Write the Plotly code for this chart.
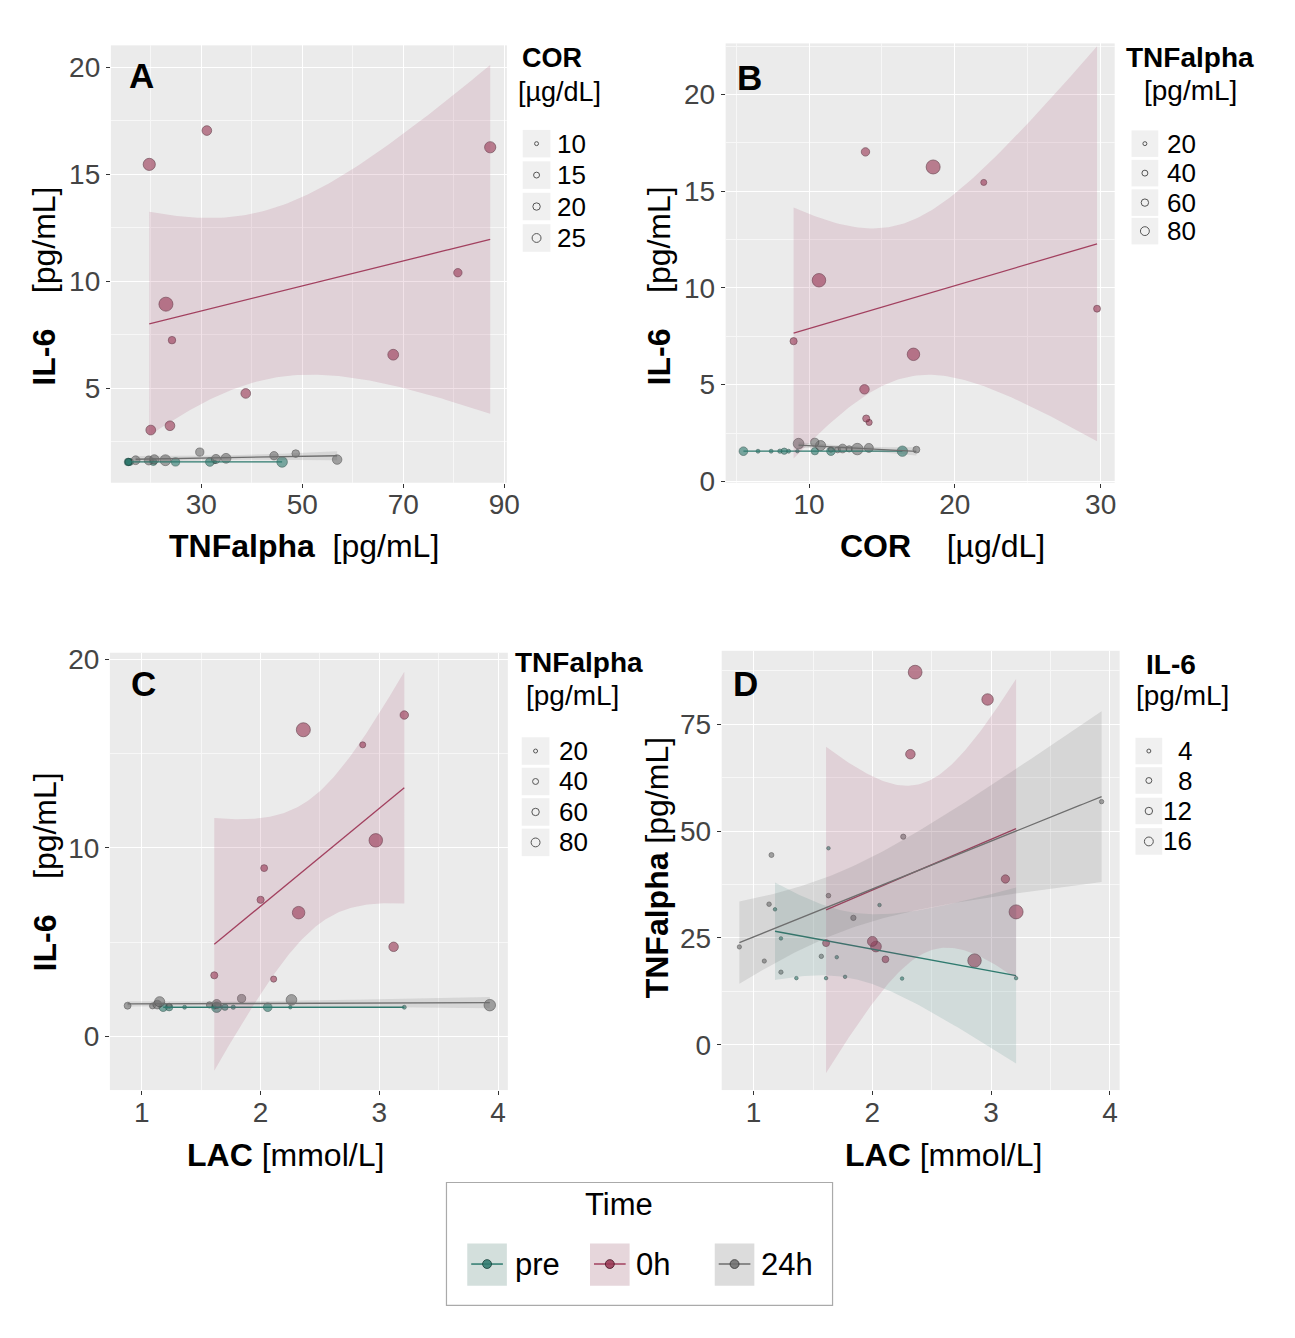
import math
import numpy as np
import plotly.graph_objects as go

# ---------------- data ----------------
GROUPS = ["pre", "0h", "24h"]

LAC_pre = [1.18, 1.23, 1.36, 1.61, 1.63, 1.70, 1.77, 2.06, 2.25, 3.21]
TNF_pre = [31.7, 24.9, 15.6, 15.6, 46.0, 20.5, 15.9, 32.7, 15.5, 15.6]
IL6_pre = [1.56, 1.56, 1.56, 1.56, 1.56, 1.56, 1.56, 1.56, 1.56, 1.56]
COR_pre = [11.5, 10.4, 6.5, 7.4, 16.4, 8.3, 8.0, 5.5, 9.2, 8.6]

LAC_0h = [2.86, 3.21, 2.03, 2.00, 3.12, 2.32, 2.97, 2.36, 2.11, 1.61]
TNF_0h = [19.7, 31.1, 23.0, 24.2, 38.8, 68.0, 80.8, 87.2, 20.0, 23.8]
IL6_0h = [15.46, 17.04, 8.93, 7.25, 4.76, 6.57, 10.40, 16.26, 3.05, 3.25]
COR_0h = [21.98, 13.87, 29.75, 8.94, 13.80, 17.16, 10.68, 18.51, 14.12, 13.92]

LAC_24h = [0.88, 1.09, 1.13, 1.15, 1.23, 1.57, 1.63, 1.84, 2.26, 3.93]
TNF_24h = [22.9, 19.6, 32.9, 44.4, 17.0, 20.7, 34.9, 29.7, 48.7, 56.9]
IL6_24h = [1.64, 1.63, 1.70, 1.85, 1.64, 1.68, 1.73, 2.02, 1.95, 1.67]
COR_24h = [17.36, 11.96, 12.3, 10.79, 11.5, 12.75, 14.1, 10.39, 9.28, 13.31]

SIZE_BREAKS_COR = [10, 15, 20, 25]
SIZE_BREAKS_TNF = [20, 40, 60, 80]
SIZE_BREAKS_IL6 = [4, 8, 12, 16]

DATA = {
    "pre": dict(LAC=LAC_pre, TNF=TNF_pre, IL6=IL6_pre, COR=COR_pre),
    "0h": dict(LAC=LAC_0h, TNF=TNF_0h, IL6=IL6_0h, COR=COR_0h),
    "24h": dict(LAC=LAC_24h, TNF=TNF_24h, IL6=IL6_24h, COR=COR_24h),
}

# ---------------- styling ----------------
FONT = "Liberation Sans, Arial, Helvetica, sans-serif"
FILL = {"pre": "rgba(48,122,110,0.88)", "0h": "rgba(152,56,84,0.88)", "24h": "rgba(112,112,112,0.88)"}
EDGE = {"pre": "#143d36", "0h": "#41101f", "24h": "#333333"}
LINE = {"pre": "#2e7a6e", "0h": "#a2405f", "24h": "#6e6e6e"}
BAND = {"pre": "rgba(60,130,120,0.15)", "0h": "rgba(160,62,98,0.15)", "24h": "rgba(95,95,95,0.15)"}
KEYBG = {"pre": "#d3dfdc", "0h": "#e6d6db", "24h": "#dcdcdc"}

# figure geometry (reference pixel -> paper); page margin removed via post_script
W, H = 1295, 1338


def PX(X):
    return X / W


def PY(Y):
    return 1 - Y / H


def t_quantile(p, df):
    xs = np.linspace(0, 40, 400001)
    c = math.gamma((df + 1) / 2) / (math.sqrt(df * math.pi) * math.gamma(df / 2))
    pdf = c * (1 + xs ** 2 / df) ** (-(df + 1) / 2)
    cdf = 0.5 + np.concatenate([[0.0], np.cumsum((pdf[1:] + pdf[:-1]) / 2 * np.diff(xs))])
    return float(np.interp(p, cdf, xs))


def fit_band(x, y, n=100):
    x = np.asarray(x, float)
    y = np.asarray(y, float)
    b1, b0 = np.polyfit(x, y, 1)
    xs = np.linspace(x.min(), x.max(), n)
    yhat = b0 + b1 * xs
    resid = y - (b0 + b1 * x)
    dof = len(x) - 2
    s = math.sqrt((resid ** 2).sum() / dof)
    sxx = ((x - x.mean()) ** 2).sum()
    se = s * np.sqrt(1 / len(x) + (xs - x.mean()) ** 2 / sxx)
    t = t_quantile(0.975, dof)
    return xs, yhat, yhat - t * se, yhat + t * se


PANELS = [
    dict(letter="A", x="TNF", y="IL6", s="COR",
         dom=(112, 512, 37, 482), xr=[12.1, 90.5], yr=[0.59, 21.02],
         xt=(10, 20, 10), yt=(0, 5, 2.5),
         xtitle="<b>TNFalpha</b>\u00a0\u00a0[pg/mL]", xtpos=(307, 546),
         ytitle="<b>IL-6</b>\u00a0\u00a0\u00a0\u00a0[pg/mL]", ytpos=(45, 282),
         letpos=(143, 68),
         leg=dict(t1="<b>COR</b>", t1pos=(558, 50), t2="[µg/dL]", t2pos=(565, 84),
                  box=(528, 556), ys=[137, 169, 201, 233], lab=SIZE_BREAKS_COR,
                  labx=561, align="left", tsize=27)),
    dict(letter="B", x="COR", y="IL6", s="TNF",
         dom=(733, 1126, 35, 482), xr=[4.28, 30.96], yr=[-0.07, 22.65],
         xt=(0, 10, 5), yt=(0, 5, 2.5),
         xtitle="<b>COR</b>\u00a0\u00a0\u00a0\u00a0[µg/dL]", xtpos=(952, 546),
         ytitle="<b>IL-6</b>\u00a0\u00a0\u00a0\u00a0[pg/mL]", ytpos=(666, 282),
         letpos=(757, 70),
         leg=dict(t1="<b>TNFalpha</b>", t1pos=(1202, 49), t2="[pg/mL]", t2pos=(1203, 83),
                  box=(1143, 1170), ys=[137, 167, 197, 226], lab=SIZE_BREAKS_TNF,
                  labx=1177, align="left", tsize=28)),
    dict(letter="C", x="LAC", y="IL6", s="TNF",
         dom=(111, 513, 655, 1100), xr=[0.731, 4.082], yr=[-2.83, 20.34],
         xt=(0, 1, 0.5), yt=(0, 10, 5),
         xtitle="<b>LAC</b>\u00a0[mmol/L]", xtpos=(288, 1166),
         ytitle="<b>IL-6</b>\u00a0\u00a0\u00a0\u00a0[pg/mL]", ytpos=(45, 878),
         letpos=(145, 686),
         leg=dict(t1="<b>TNFalpha</b>", t1pos=(585, 665), t2="[pg/mL]", t2pos=(578, 699),
                  box=(527, 555), ys=[755, 786, 817, 848], lab=SIZE_BREAKS_TNF,
                  labx=563, align="left", tsize=28)),
    dict(letter="D", x="LAC", y="TNF", s="IL6",
         dom=(729, 1131, 653, 1100), xr=[0.731, 4.082], yr=[-10.6, 92.2],
         xt=(0, 1, 0.5), yt=(0, 25, 12.5),
         xtitle="<b>LAC</b>\u00a0[mmol/L]", xtpos=(953, 1166),
         ytitle="<b>TNFalpha</b>\u00a0[pg/mL]", ytpos=(664, 874),
         letpos=(753, 686),
         leg=dict(t1="<b>IL-6</b>", t1pos=(1183, 667), t2="[pg/mL]", t2pos=(1194, 699),
                  box=(1147, 1174), ys=[755, 785, 816, 847], lab=SIZE_BREAKS_IL6,
                  labx=1206, align="right", tsize=28)),
]

LEG_CIRCLE_D = [4.0, 6.0, 7.5, 9.0]

fig = go.Figure()
annotations = []
shapes = []
layout_axes = {}

for i, P in enumerate(PANELS, start=1):
    xa = "x" if i == 1 else f"x{i}"
    ya = "y" if i == 1 else f"y{i}"
    # size scale trained over all groups
    allv = np.concatenate([np.asarray(DATA[g][P["s"]], float) for g in GROUPS])
    vmin, vmax = allv.min(), allv.max()

    def diam(v):
        v = np.asarray(v, float)
        return 3.5 + 10.5 * np.sqrt((v - vmin) / (vmax - vmin))

    # points
    for g in GROUPS:
        d = DATA[g]
        fig.add_trace(go.Scatter(
            x=d[P["x"]], y=d[P["y"]], mode="markers", xaxis=xa, yaxis=ya,
            marker=dict(size=diam(d[P["s"]]), color=FILL[g], line=dict(color=EDGE[g], width=0.7)),
            showlegend=False, hoverinfo="skip"))
    # smooths (lm with 95% confidence band)
    for g in GROUPS:
        d = DATA[g]
        xs, yh, lo, hi = fit_band(d[P["x"]], d[P["y"]])
        fig.add_trace(go.Scatter(
            x=np.concatenate([xs, xs[::-1]]), y=np.concatenate([hi, lo[::-1]]),
            mode="lines", fill="toself", fillcolor=BAND[g], line=dict(width=0),
            xaxis=xa, yaxis=ya, showlegend=False, hoverinfo="skip"))
        fig.add_trace(go.Scatter(
            x=xs, y=yh, mode="lines", line=dict(color=LINE[g], width=1.3),
            xaxis=xa, yaxis=ya, showlegend=False, hoverinfo="skip"))

    x0, x1, y0, y1 = P["dom"]
    axcommon = dict(showgrid=True, gridcolor="white", gridwidth=1.3, zeroline=False,
                    ticks="outside", ticklen=4, tickwidth=1, tickcolor="#333333",
                    tickfont=dict(family=FONT, size=28, color="#444444"),
                    showline=False)
    layout_axes["xaxis" if i == 1 else f"xaxis{i}"] = dict(
        axcommon, domain=[PX(x0), PX(x1)], range=P["xr"], anchor=ya,
        tick0=P["xt"][0], dtick=P["xt"][1], ticklabelstandoff=-7,
        minor=dict(tick0=P["xt"][0], dtick=P["xt"][2], showgrid=True, gridcolor="#f7f7f7", gridwidth=0.6, ticks=""))
    layout_axes["yaxis" if i == 1 else f"yaxis{i}"] = dict(
        axcommon, domain=[PY(y1), PY(y0)], range=P["yr"], anchor=xa,
        tick0=P["yt"][0], dtick=P["yt"][1],
        minor=dict(tick0=P["yt"][0], dtick=P["yt"][2], showgrid=True, gridcolor="#f7f7f7", gridwidth=0.6, ticks=""))

    # axis titles, panel letter
    annotations.append(dict(text=P["xtitle"], x=PX(P["xtpos"][0]), y=PY(P["xtpos"][1]),
                            xref="paper", yref="paper", showarrow=False, xanchor="center", yanchor="middle",
                            font=dict(family=FONT, size=32, color="black")))
    annotations.append(dict(text=P["ytitle"], x=PX(P["ytpos"][0]), y=PY(P["ytpos"][1]), textangle=-90,
                            xref="paper", yref="paper", showarrow=False, xanchor="center", yanchor="middle",
                            font=dict(family=FONT, size=32, color="black")))
    annotations.append(dict(text=f"<b>{P['letter']}</b>", x=PX(P["letpos"][0]), y=PY(P["letpos"][1]),
                            xref="paper", yref="paper", showarrow=False, xanchor="center", yanchor="middle",
                            font=dict(family=FONT, size=35, color="black")))

    # size legend
    L = P["leg"]
    for txt, pos in ((L["t1"], L["t1pos"]), (L["t2"], L["t2pos"])):
        annotations.append(dict(text=txt, x=PX(pos[0]), y=PY(pos[1]), xref="paper", yref="paper",
                                showarrow=False, xanchor="center", yanchor="middle",
                                font=dict(family=FONT, size=L["tsize"], color="black")))
    bx0, bx1 = L["box"]
    cx = (bx0 + bx1) / 2
    half = (bx1 - bx0) / 2
    for k, (yc, lab) in enumerate(zip(L["ys"], L["lab"])):
        shapes.append(dict(type="rect", xref="paper", yref="paper", x0=PX(bx0), x1=PX(bx1),
                           y0=PY(yc + half), y1=PY(yc - half), fillcolor="#f0f0f0", line=dict(width=0),
                           layer="below"))
        r = LEG_CIRCLE_D[k] / 2
        shapes.append(dict(type="circle", xref="paper", yref="paper", x0=PX(cx - r), x1=PX(cx + r),
                           y0=PY(yc + r), y1=PY(yc - r), line=dict(color="#555555", width=1),
                           fillcolor="rgba(0,0,0,0)"))
        annotations.append(dict(text=str(lab), x=PX(L["labx"]), y=PY(yc), xref="paper", yref="paper",
                                showarrow=False, xanchor=L["align"], yanchor="middle",
                                font=dict(family=FONT, size=26, color="black")))

# ---------------- Time legend ----------------
shapes.append(dict(type="rect", xref="paper", yref="paper", x0=PX(451), x1=PX(841), y0=PY(1319), y1=PY(1194),
                   line=dict(color="#aaaaaa", width=1.2), fillcolor="white"))
annotations.append(dict(text="Time", x=PX(625), y=PY(1216), xref="paper", yref="paper", showarrow=False,
                        xanchor="center", yanchor="middle", font=dict(family=FONT, size=31, color="black")))
TIME_KEYS = {"pre": (472, 512, 518), "0h": (596, 636, 640), "24h": (722, 762, 767)}
for g in GROUPS:
    k0, k1, lx = TIME_KEYS[g]
    kc = (k0 + k1) / 2
    shapes.append(dict(type="rect", xref="paper", yref="paper", x0=PX(k0), x1=PX(k1), y0=PY(1299), y1=PY(1256),
                       fillcolor=KEYBG[g], line=dict(width=0)))
    shapes.append(dict(type="line", xref="paper", yref="paper", x0=PX(k0 + 4), x1=PX(k1 - 4), y0=PY(1277),
                       y1=PY(1277), line=dict(color=LINE[g], width=1.5)))
    shapes.append(dict(type="circle", xref="paper", yref="paper", x0=PX(kc - 4.5), x1=PX(kc + 4.5),
                       y0=PY(1281.5), y1=PY(1272.5), fillcolor=FILL[g], line=dict(color=EDGE[g], width=0.8)))
    annotations.append(dict(text=g, x=PX(lx), y=PY(1277), xref="paper", yref="paper", showarrow=False,
                            xanchor="left", yanchor="middle", font=dict(family=FONT, size=31, color="black")))

fig.update_layout(
    width=W, height=H, autosize=False,
    margin=dict(l=0, r=0, t=0, b=0, pad=0),
    paper_bgcolor="white", plot_bgcolor="#ebebeb",
    font=dict(family=FONT),
    showlegend=False, hovermode=False,
    annotations=annotations, shapes=shapes,
    **layout_axes,
)

fig.write_html("out.html", config={"displayModeBar": False},
               post_script="document.body.style.margin='0';document.body.style.overflow='hidden';")
